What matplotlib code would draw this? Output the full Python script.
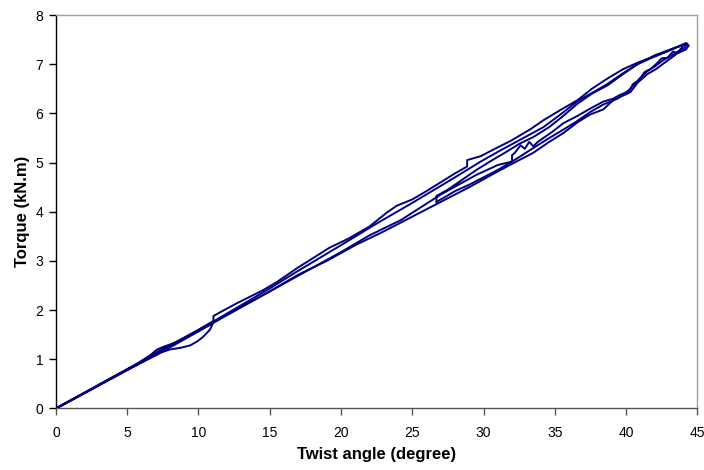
import matplotlib.pyplot as plt

plt.rcParams['font.family'] = ['Liberation Sans', 'DejaVu Sans']

# Twist angle (degree) and torque (kN.m) logged during each loading run

# run 1: small cycle up to ~11 degrees and back
run1_x = [0, 1.5, 3, 4.5, 5.8, 6.6, 7.1, 7.6, 8.3, 9.1, 9.9, 10.6, 11.05,
          10.8, 10.3, 9.9, 9.4, 8.7, 8.0, 7.3, 6.4, 5, 3.5, 2, 0]
run1_y = [0, 0.24, 0.48, 0.72, 0.93, 1.08, 1.2, 1.26, 1.33, 1.44, 1.56, 1.67, 1.75,
          1.6, 1.45, 1.36, 1.28, 1.23, 1.2, 1.13, 1.0, 0.79, 0.55, 0.31, 0]

# run 2: loading to peak, unloading down to ~27 degrees
run2_x = [0, 2, 4, 5.5, 6.8, 7.5, 8.5, 9.9, 11.05, 11.05, 11.8, 12.7, 13.6, 14.5,
          15.5, 16.9, 18, 19.2, 20.5, 22, 23.2, 23.9, 25, 26, 27, 28, 28.85, 28.85,
          29.8, 30.8, 31.9, 33.3, 34.2, 35.4, 36.6, 37.6, 38.7, 39.8, 40.8, 41.8,
          42.9, 43.7, 44.3,
          44.1, 43.6, 43.2, 42.6, 42.0, 41.5, 41.0, 40.6, 40.3, 39.8, 39.4, 38.4,
          37.5, 36.5, 35.6, 34.5, 33.3, 32.6, 32.0, 31, 30, 29, 28, 27.3, 26.7]
run2_y = [0, 0.32, 0.64, 0.87, 1.1, 1.22, 1.36, 1.58, 1.78, 1.88, 2.0, 2.14, 2.27, 2.4,
          2.57, 2.85, 3.05, 3.27, 3.45, 3.7, 3.98, 4.12, 4.25, 4.42, 4.6, 4.78, 4.92, 5.05,
          5.13, 5.28, 5.44, 5.68, 5.86, 6.07, 6.27, 6.5, 6.71, 6.9, 7.03, 7.14,
          7.27, 7.36, 7.42,
          7.33, 7.25, 7.18, 7.08, 6.95, 6.86, 6.72, 6.6, 6.5, 6.38, 6.3, 6.18,
          6.03, 5.83, 5.67, 5.48, 5.26, 5.13, 5.02, 4.85, 4.7, 4.55, 4.42, 4.3, 4.2]

# run 3: reloading from ~27 degrees, unloading to zero
run3_x = [26.7, 26.7, 27.5, 28.5, 29.5, 30.5, 31.5, 32.5, 33.5, 34.6, 35.6, 36.6,
          37.6, 38.7, 39.8, 40.8, 41.8, 42.9, 43.8, 44.2, 44.4,
          44.2, 43.6, 43.3, 42.9, 42.5, 42.1, 41.7, 41.3, 40.9, 40.5, 40.2, 39.6,
          39.1, 38.4, 37.5, 36.6, 35.6, 34.8, 34.2, 33.8, 33.5, 33.2, 32.9, 32.6,
          32.2, 32.0, 32.0, 31, 29.5, 27, 24.2, 22, 20, 17, 14.5, 12, 9.9, 7, 5, 2.5, 0]
run3_y = [4.2, 4.32, 4.45, 4.65, 4.85, 5.03, 5.2, 5.38, 5.52, 5.72, 5.95, 6.2,
          6.4, 6.57, 6.8, 7.0, 7.13, 7.26, 7.38, 7.43, 7.38,
          7.3, 7.22, 7.26, 7.13, 7.12, 7.0, 6.9, 6.84, 6.67, 6.6, 6.45, 6.38,
          6.3, 6.24, 6.1, 5.95, 5.8, 5.62, 5.5, 5.42, 5.33, 5.42, 5.28, 5.35,
          5.2, 5.15, 5.02, 4.95, 4.75, 4.35, 3.83, 3.52, 3.18, 2.7, 2.3, 1.9, 1.55, 1.08, 0.78, 0.39, 0]

# run 4: full cycle from zero to peak and back to zero
run4_x = [0, 3, 5, 7, 9, 11, 13, 15, 17, 20, 22.5, 25, 28, 29.8, 31.2, 32.8, 34.2,
          35.5, 36.6, 37.7, 38.7, 39.8, 40.8, 42, 43.3, 44.1,
          43.5, 42.8, 42.1, 41.5, 40.8, 40.3, 39.1, 38.4, 37.5, 36.6, 35.6, 34.5,
          33.5, 32.5, 31, 29, 27, 25, 23, 21, 19, 17, 15, 13, 11, 9, 7, 5, 3, 0]
run4_y = [0, 0.47, 0.79, 1.12, 1.44, 1.76, 2.1, 2.44, 2.8, 3.32, 3.76, 4.18, 4.7,
          5.02, 5.25, 5.5, 5.72, 6.0, 6.25, 6.43, 6.6, 6.82, 7.0, 7.18, 7.32, 7.4,
          7.2, 7.05, 6.9, 6.8, 6.62, 6.43, 6.27, 6.08, 5.98, 5.82, 5.6, 5.4,
          5.2, 5.05, 4.82, 4.5, 4.2, 3.9, 3.6, 3.32, 3.0, 2.72, 2.38, 2.06, 1.74,
          1.42, 1.1, 0.78, 0.47, 0]

runs = [(run1_x, run1_y), (run2_x, run2_y), (run3_x, run3_y), (run4_x, run4_y)]

fig = plt.figure(figsize=(7.04, 4.70), dpi=100)
ax = fig.add_axes([0.0795, 0.131, 0.911, 0.837])

for rx, ry in runs:
    ax.plot(rx, ry, color='#000080', lw=1.4, solid_joinstyle='round')

ax.set_xlim(0, 45)
ax.set_ylim(0, 8)
ax.set_xticks(range(0, 46, 5))
ax.set_yticks(range(0, 9))

ax.spines['left'].set_color('black')
ax.spines['bottom'].set_color('#555555')
ax.spines['top'].set_color('#a0a0a0')
ax.spines['right'].set_color('#a0a0a0')
for s in ax.spines.values():
    s.set_linewidth(1.0)

ax.tick_params(axis='both', direction='out', length=5, width=1.0, labelsize=10, colors='black')
ax.tick_params(axis='x', color='#555555', pad=8)
ax.tick_params(axis='y', pad=4)

ax.set_xlabel('Twist angle (degree)', fontsize=12, fontweight='bold', labelpad=5)
ax.set_ylabel('Torque (kN.m)', fontsize=12, fontweight='bold', labelpad=4)

fig.savefig('out.png', dpi=100)
